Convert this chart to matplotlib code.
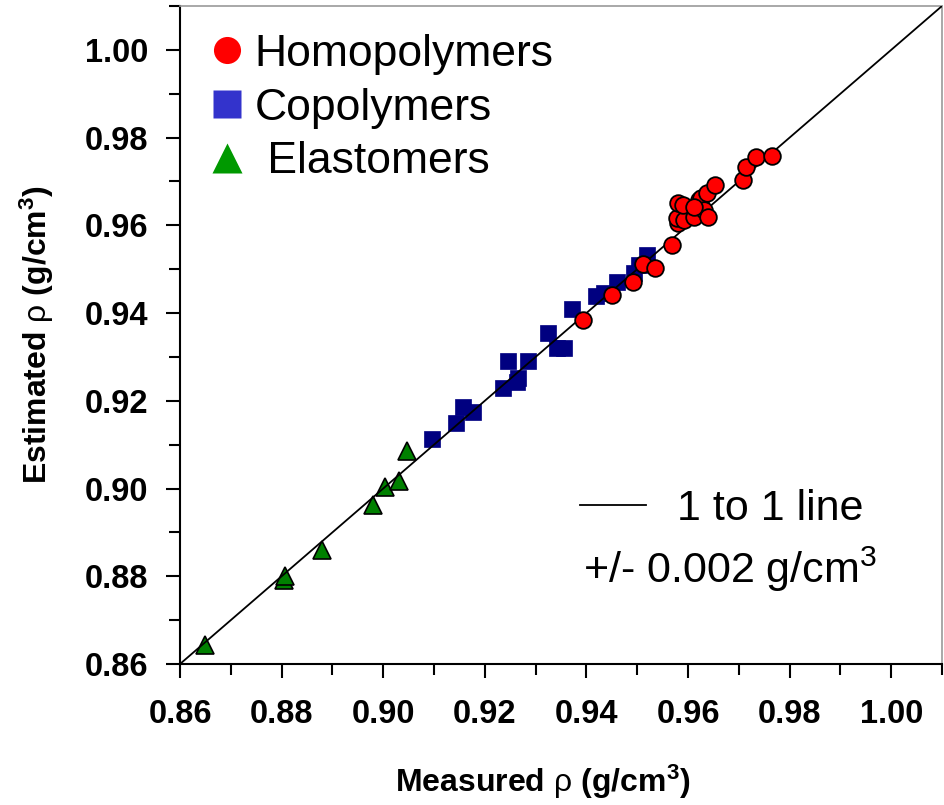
import matplotlib
matplotlib.use("Agg")
import matplotlib.pyplot as plt
from matplotlib.lines import Line2D
from matplotlib.ticker import MultipleLocator, FormatStrFormatter

plt.rcParams['font.family'] = ['Liberation Sans', 'DejaVu Sans']
plt.rcParams['mathtext.fontset'] = 'custom'
plt.rcParams['mathtext.rm'] = 'Liberation Sans'
plt.rcParams['mathtext.bf'] = 'Liberation Sans:bold'
plt.rcParams['mathtext.it'] = 'Liberation Sans:italic'

# ---- data (measured, estimated density g/cm3) ----
homo_measured = [0.9394, 0.9451, 0.9491, 0.9512, 0.9536, 0.9568, 0.9581, 0.9579,
                 0.9593, 0.9581, 0.9591, 0.9611, 0.9621, 0.9625, 0.9631, 0.9640,
                 0.9638, 0.9654, 0.9611, 0.9709, 0.9715, 0.9733, 0.9766]
homo_estimated = [0.9384, 0.9441, 0.9471, 0.9512, 0.9503, 0.9555, 0.9605, 0.9617,
                  0.9612, 0.9651, 0.9646, 0.9619, 0.9658, 0.9662, 0.9635, 0.9619,
                  0.9674, 0.9692, 0.9642, 0.9703, 0.9733, 0.9756, 0.9758]

co_measured = [0.9097, 0.9144, 0.9158, 0.9176, 0.9235, 0.9264, 0.9266, 0.9245,
               0.9286, 0.9325, 0.9343, 0.9355, 0.9371, 0.9418, 0.9434, 0.9461,
               0.9493, 0.9503, 0.9520]
co_estimated = [0.9113, 0.9149, 0.9186, 0.9174, 0.9229, 0.9243, 0.9252, 0.9291,
                0.9291, 0.9355, 0.9320, 0.9320, 0.9409, 0.9439, 0.9446, 0.9471,
                0.9491, 0.9510, 0.9532]

elast_measured = [0.8650, 0.8805, 0.8806, 0.8880, 0.8980, 0.9003, 0.9031, 0.9047]
elast_estimated = [0.8643, 0.8791, 0.8800, 0.8860, 0.8963, 0.9004, 0.9018, 0.9086]

one_to_one = [0.86, 1.01]

legend_labels = ['Homopolymers', 'Copolymers', ' Elastomers']
line_label = '1 to 1 line'
tolerance_text = '+/- 0.002 g/cm$^3$'
xlabel = r'Measured $\mathrm{\rho}$ (g/cm$^\mathbf{3}$)'
ylabel = r'Estimated $\mathrm{\rho}$ (g/cm$^\mathbf{3}$)'

# ---- figure ----
fig = plt.figure(figsize=(9.44, 8.05), dpi=100)
ax = fig.add_axes([180/944, 1-664/805, 762/944, 658/805])

ax.plot(co_measured, co_estimated, ls='none', marker='s', ms=12,
        color='#000080', mec='#000080', mew=0.5, zorder=2)
ax.plot(elast_measured, elast_estimated, ls='none', marker='^', ms=13.5,
        color='#008000', mec='black', mew=1.2, zorder=2)
line, = ax.plot(one_to_one, one_to_one, color='black', lw=1.3, zorder=3,
                label=line_label)
ax.plot(homo_measured, homo_estimated, ls='none', marker='o', ms=12,
        color='#FF0000', mec='black', mew=1.3, zorder=4)

ax.set_xlim(0.86, 1.01)
ax.set_ylim(0.86, 1.01)

for a in (ax.xaxis, ax.yaxis):
    a.set_major_locator(MultipleLocator(0.02))
    a.set_minor_locator(MultipleLocator(0.01))
    a.set_major_formatter(FormatStrFormatter('%.2f'))

ax.tick_params(which='major', direction='out', length=10, width=1.5, color='black')
ax.tick_params(which='minor', direction='out', length=8, width=1.5, color='black')
ax.tick_params(axis='x', which='major', pad=15, labelsize=23.5)
ax.tick_params(axis='y', which='major', pad=13, labelsize=23.5)
for lab in ax.get_xticklabels() + ax.get_yticklabels():
    lab.set_fontweight('bold')

ax.spines['left'].set_linewidth(1.5)
ax.spines['bottom'].set_linewidth(1.5)
ax.spines['top'].set_color('#999999')
ax.spines['right'].set_color('#999999')
ax.spines['top'].set_linewidth(1.2)
ax.spines['right'].set_linewidth(1.2)

ax.set_xlabel(xlabel, fontsize=23, fontweight='bold')
ax.set_ylabel(ylabel, fontsize=23, fontweight='bold')
ax.xaxis.set_label_coords(0.476, -0.150)
ax.yaxis.set_label_coords(-0.163, 0.5)

# category legend
handles = [
    Line2D([], [], ls='none', marker='o', ms=19.5, color='#FF0000', mec='none'),
    Line2D([], [], ls='none', marker='s', ms=19.5, color='#3333CC', mec='none'),
    Line2D([], [], ls='none', marker='^', ms=22, color='#009900', mec='none'),
]
leg1 = ax.legend(handles, legend_labels, loc='upper left',
                 bbox_to_anchor=(0.038, 0.958), frameon=False, fontsize=32,
                 borderpad=0, borderaxespad=0, handlelength=0.8,
                 handletextpad=0.23, labelspacing=0.29)
ax.add_artist(leg1)

# 1:1 line legend
leg2 = ax.legend([line], [line_label], loc='upper left',
                 bbox_to_anchor=(0.525, 0.266), frameon=False, fontsize=31,
                 borderpad=0, borderaxespad=0, handlelength=1.53,
                 handletextpad=0.72)
ax.text(0.529, 0.1231, tolerance_text, transform=ax.transAxes,
        fontsize=31, ha='left', va='baseline')

fig.savefig('out.png', dpi=100)
